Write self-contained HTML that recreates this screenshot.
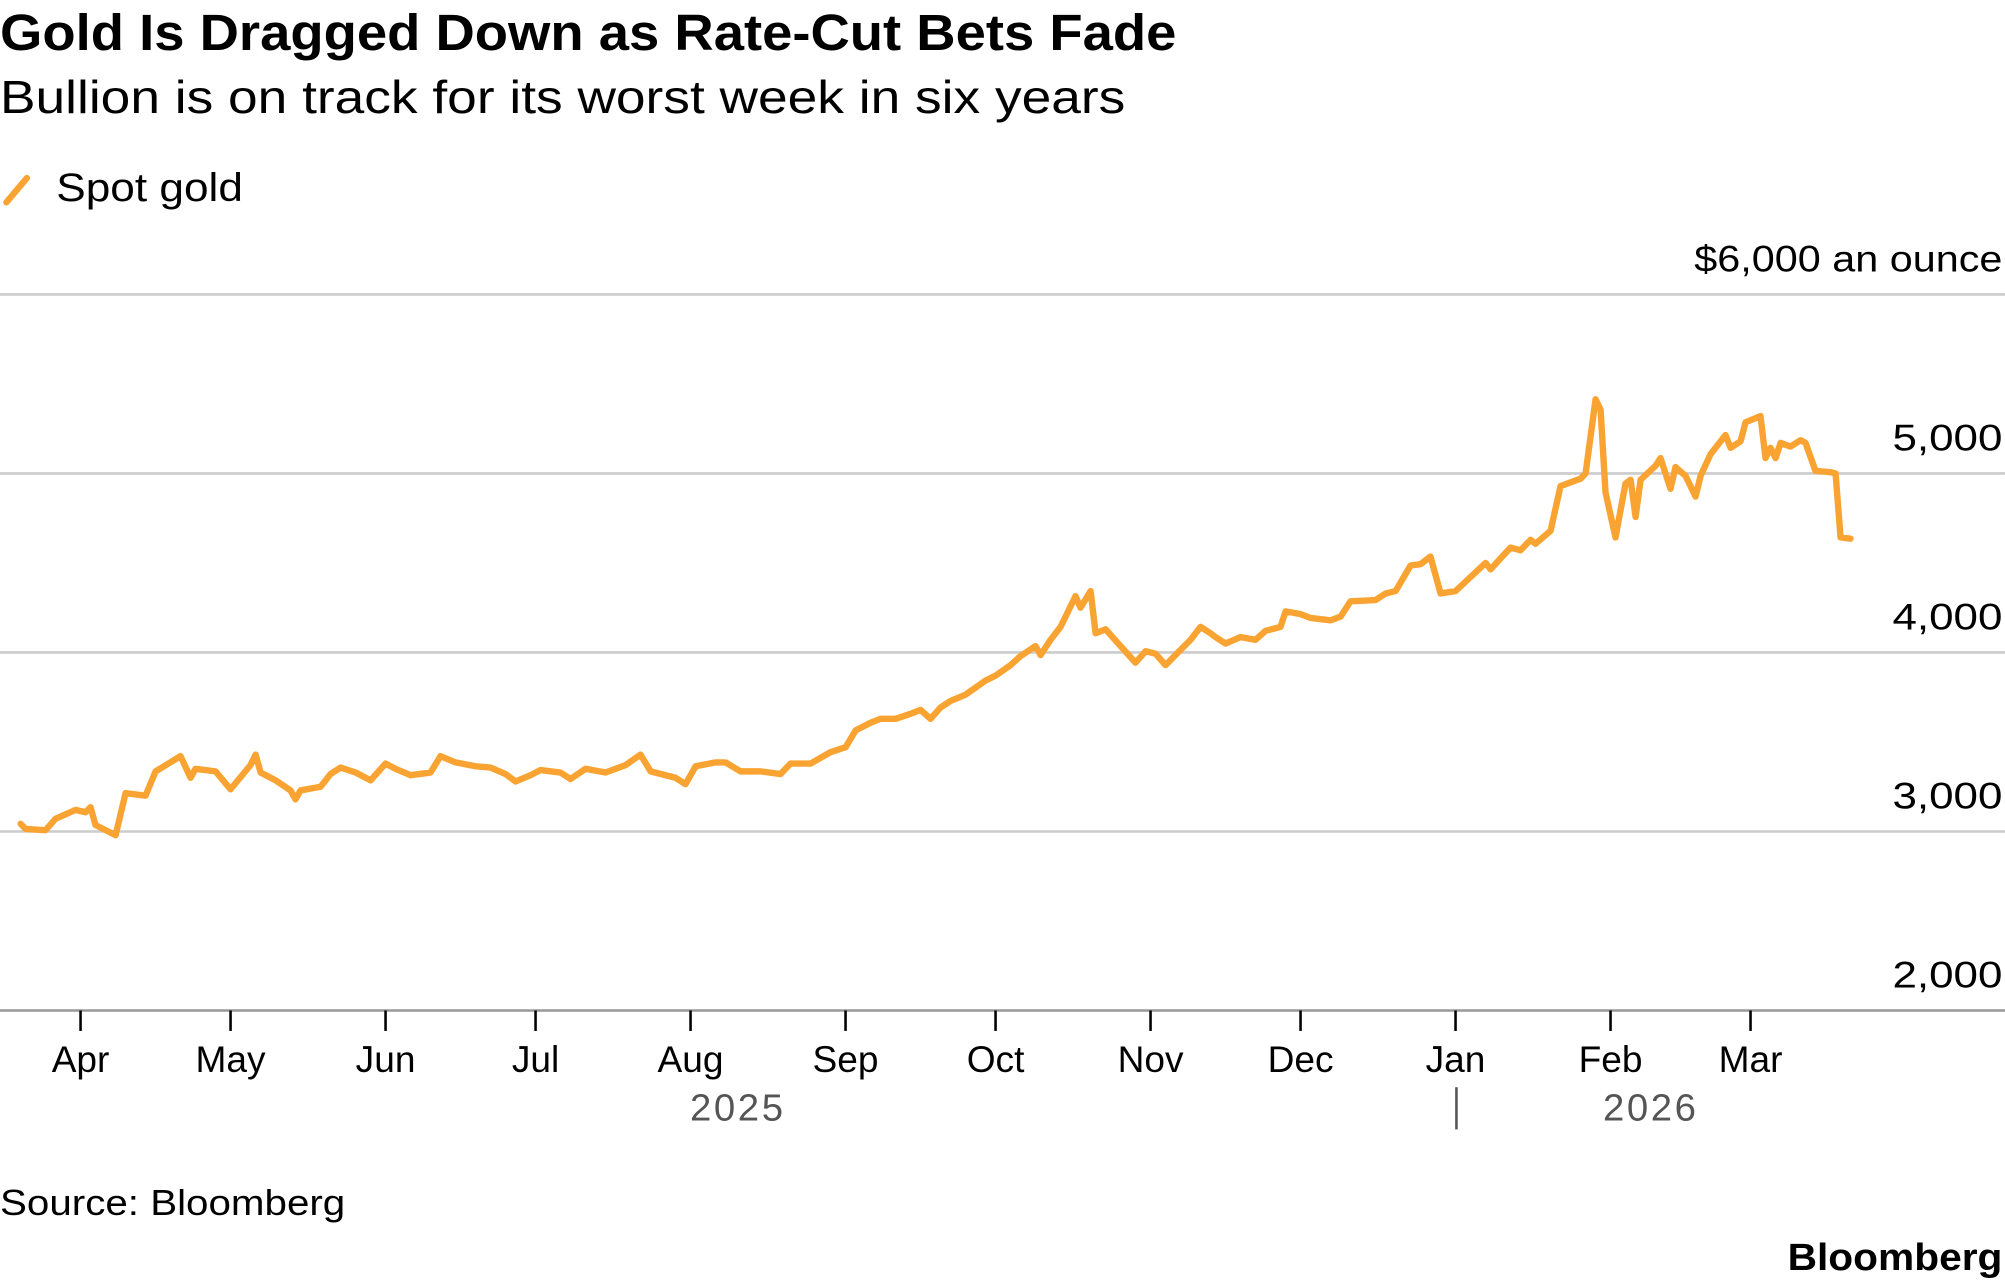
<!DOCTYPE html>
<html><head><meta charset="utf-8"><style>
html,body{margin:0;padding:0;background:#fff;}
svg{display:block;font-family:"Liberation Sans",sans-serif;}
</style></head><body>
<svg id="chart" width="2005" height="1287" viewBox="0 0 1568 1006" xmlns="http://www.w3.org/2000/svg">
<text x="0" y="39" font-size="40" font-weight="bold" textLength="920" lengthAdjust="spacingAndGlyphs" fill="#000">Gold Is Dragged Down as Rate-Cut Bets Fade</text>
<text x="0" y="88" font-size="36" fill="#000" textLength="880" lengthAdjust="spacingAndGlyphs">Bullion is on track for its worst week in six years</text>
<g>
<line x1="5" y1="158" x2="21" y2="139" stroke="#f9a432" stroke-width="5" stroke-linecap="round"/>
<text x="44" y="157" font-size="31" fill="#000" textLength="146" lengthAdjust="spacingAndGlyphs">Spot gold</text>
</g>
<g id="grid"></g>
<g id="yaxis"></g>
<g id="xaxis"></g>
<g id="series"></g>
<line x1="1139" y1="850" x2="1139" y2="883" stroke="#555" stroke-width="2"/>
<text x="577" y="876" font-size="30" fill="#555" text-anchor="middle" letter-spacing="2">2025</text>
<text x="1291" y="876" font-size="30" fill="#555" text-anchor="middle" letter-spacing="2">2026</text>
<text x="0" y="950" font-size="28" fill="#000" textLength="270" lengthAdjust="spacingAndGlyphs">Source: Bloomberg</text>
<text x="1398" y="993" font-size="30" font-weight="bold" fill="#000" textLength="168" lengthAdjust="spacingAndGlyphs">Bloomberg</text>
</svg>
<script>
const yTicks = [2000, 3000, 4000, 5000, 6000];
const yTickLabels = ["2,000", "3,000", "4,000", "5,000", "$6,000 an ounce"];
const monthLabels = ["Apr","May","Jun","Jul","Aug","Sep","Oct","Nov","Dec","Jan","Feb","Mar"];
const monthDays = [0,30,61,91,122,153,183,214,244,275,306,334];
const days = [-12,-11,-7,-5,-1,1,2,3,7,9,13,15,20,22,23,27,30,34,35,36,39,42,43,44,48,50,52,55,58,61,63,66,70,72,75,79,82,85,87,90,92,96,98,101,105,109,112,114,119,121,123,127,129,132,136,140,142,146,150,153,155,158,160,163,166,168,170,172,174,177,181,183,186,188,191,192,194,196,199,200,202,203,205,208,211,213,215,217,219,222,224,226,227,229,232,235,237,240,241,244,246,250,252,254,259,261,263,266,268,270,272,275,281,282,286,288,290,291,294,296,300,301,303,304,305,307,309,310,311,312,315,316,318,319,321,323,324,326,329,330,332,333,336,337,338,339,340,342,344,345,347,350,351,352,354];
const prices = [3043,3014,3007,3071,3121,3107,3136,3036,2979,3214,3200,3336,3421,3300,3350,3336,3236,3371,3429,3329,3286,3229,3179,3229,3250,3321,3357,3329,3286,3379,3350,3314,3329,3421,3386,3364,3357,3321,3279,3314,3343,3329,3293,3350,3329,3371,3429,3336,3300,3264,3364,3386,3386,3336,3336,3321,3379,3379,3443,3471,3564,3607,3629,3629,3657,3679,3629,3693,3729,3764,3843,3871,3929,3979,4036,3986,4071,4143,4314,4250,4343,4107,4129,4036,3943,4007,3993,3929,3986,4071,4143,4107,4086,4050,4086,4071,4121,4143,4229,4214,4193,4179,4200,4286,4293,4329,4343,4486,4493,4536,4329,4343,4500,4464,4586,4571,4629,4607,4679,4929,4971,5000,5414,5357,4893,4643,4943,4964,4757,4964,5043,5086,4914,5036,4986,4871,4986,5107,5214,5143,5179,5286,5321,5086,5143,5086,5171,5150,5186,5171,5014,5007,5000,4643,4636];

const NS = "http://www.w3.org/2000/svg";
const xScale = d => 63 + d * (1369 - 63) / 334;
const yScale = v => 790 - (v - 2000) * 0.14;
function mk(tag, attrs, parent, text){
  const e = document.createElementNS(NS, tag);
  for (const k in attrs) e.setAttribute(k, attrs[k]);
  if (text !== undefined) e.textContent = text;
  parent.appendChild(e); return e;
}
const grid = document.getElementById('grid'), yaxis = document.getElementById('yaxis'),
      xaxis = document.getElementById('xaxis'), series = document.getElementById('series');
yTicks.forEach((v, i) => {
  const y = yScale(v);
  const ln = mk('line', {x1:0, x2:1568, y1:y, y2:y, stroke: i===0 ? '#999' : '#ccc', 'stroke-width':2}, grid);
  
  
  const len = i === 4 ? 241 : 86;
  const t = mk('text', {x:1566 - len, y:y - 18, 'font-size':29, fill:'#000', textLength:len, lengthAdjust:'spacingAndGlyphs'}, yaxis, yTickLabels[i]);
  
  
});
monthLabels.forEach((m, i) => {
  const x = xScale(monthDays[i]);
  const tk = mk('line', {x1:x, x2:x, y1:790, y2:806, stroke:'#000', 'stroke-width':2}, xaxis);
  
  
  const t = mk('text', {x:x, y:838, 'font-size':29, 'text-anchor':'middle', fill:'#000'}, xaxis, m);
  
  
});
const pts = days.map((d, i) => xScale(d).toFixed(1) + ',' + yScale(prices[i]).toFixed(1)).join(' ');
const pl = mk('polyline', {points: pts, fill:'none', stroke:'#f9a432', 'stroke-width':5, 'stroke-linejoin':'round', 'stroke-linecap':'round'}, series);


</script>
</body></html>
